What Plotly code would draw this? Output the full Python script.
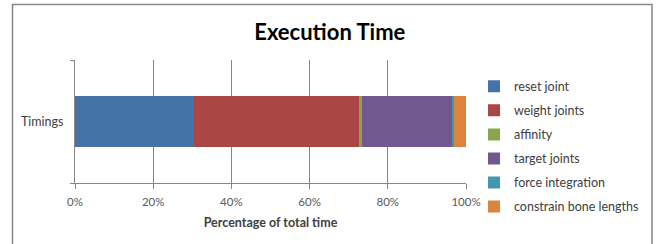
import plotly.graph_objects as go

categories = ["Timings"]
series_names = ["reset joint", "weight joints", "affinity", "target joints",
                "force integration", "constrain bone lengths"]
series_values = [30.4, 42.3, 0.7, 23.1, 0.4, 3.1]
series_colors = ["#4572A7", "#AA4643", "#89A54E", "#71588F", "#4198AF", "#DB843D"]
x_tick_vals = [0, 20, 40, 60, 80, 100]
x_tick_text = ["0%", "20%", "40%", "60%", "80%", "100%"]

FONT = "Lato, 'Open Sans', sans-serif"
GRAY = "#868686"

fig = go.Figure()
y_pos = list(range(len(categories)))
for name, val, col in zip(series_names, series_values, series_colors):
    fig.add_trace(go.Bar(
        x=[val], y=y_pos, name=name, orientation="h",
        marker=dict(color=col, line=dict(width=0)),
        width=0.41, legendgroup=name,
    ))

fig.update_layout(
    width=657, height=244,
    margin=dict(l=75, r=191, t=60, b=61),
    barmode="stack",
    paper_bgcolor="white", plot_bgcolor="white",
    font=dict(family=FONT, size=12.5, color="#404040"),
    title=dict(text="<b>Execution Time</b>", x=0.502, xanchor="center",
               y=1 - 32 / 244, yanchor="middle",
               font=dict(family=FONT, size=22, color="#000000")),
    legend=dict(x=1.0205, y=0.905, xanchor="left", yanchor="top",
                traceorder="grouped", tracegroupgap=4.8, maxheight=400,
                font=dict(family=FONT, size=12.5, color="#404040"),
                bgcolor="rgba(0,0,0,0)"),
    xaxis=dict(range=[0, 100], tickvals=x_tick_vals, ticktext=x_tick_text,
               showgrid=True, gridcolor=GRAY, gridwidth=1,
               showline=True, linecolor=GRAY, linewidth=1,
               ticks="outside", ticklen=5, tickcolor=GRAY,
               ticklabelstandoff=3,
               tickfont=dict(family=FONT, size=11.5, color="#595959"),
               zeroline=False,
               title=dict(text="<b>Percentage of total time</b>", standoff=11,
                          font=dict(family=FONT, size=12.5, color="#404040"))),
    yaxis=dict(range=[-0.5, 0.5], tickvals=y_pos, ticktext=categories,
               showgrid=False, zeroline=False,
               showline=True, linecolor=GRAY, linewidth=1,
               ticks="", ticklabelstandoff=8,
               minor=dict(ticks="outside", ticklen=4, tick0=-0.5, dtick=1,
                          tickcolor=GRAY, showgrid=False),
               tickfont=dict(family=FONT, size=12.5, color="#404040")),
    showlegend=True,
)

fig.add_shape(type="rect", xref="paper", yref="paper",
              x0=(12.5 - 75) / 391, x1=(652 - 75) / 391,
              y0=-0.6, y1=(183 - 4.5) / 123,
              line=dict(color=GRAY, width=1.5), fillcolor="rgba(0,0,0,0)",
              layer="below")

fig.write_html("out.html", config={"displayModeBar": False},
               post_script="document.body.style.margin='0';document.body.style.overflow='hidden';")
